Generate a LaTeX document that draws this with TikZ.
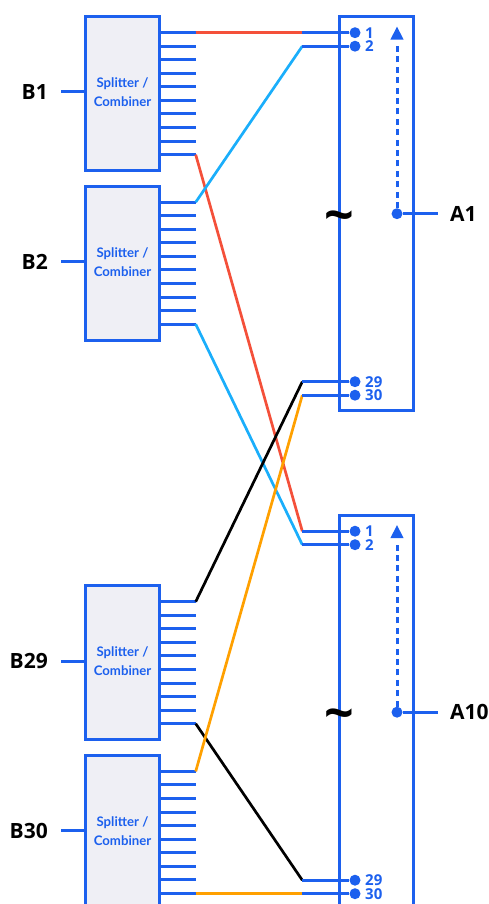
\documentclass[tikz,border=0pt]{standalone}
\usepackage{fontspec}
\setmainfont{Open Sans}
\newfontfamily\semi{Lato}
\definecolor{bl}{HTML}{1C60EE}
\definecolor{boxf}{HTML}{EFEFF5}
\definecolor{rd}{HTML}{F4503A}
\definecolor{sky}{HTML}{1AAEFB}
\definecolor{og}{HTML}{FFA000}
\tikzset{
 splitbox/.style={draw=bl,fill=boxf,line width=3pt,outer sep=0pt,minimum width=73.6pt,minimum height=153.7pt,inner sep=0pt},
 antbox/.style={draw=bl,fill=none,line width=3pt,outer sep=0pt,minimum width=74pt,minimum height=394pt,inner sep=0pt},
 stub/.style={draw=bl,line width=3pt},
 wire/.style={line width=2.7pt,line join=round},
 flatwire/.style={line width=3pt},
 dotn/.style={circle,fill=bl,minimum size=11pt,inner sep=0pt},
 port/.style={text=bl,font=\fontsize{15}{15}\selectfont\bfseries,anchor=west,inner sep=0pt},
 lab/.style={text=black,font=\fontsize{21}{21}\selectfont\bfseries,inner sep=0pt},
 tipn/.style={fill=bl},
}
\begin{document}
\begin{tikzpicture}[x=1pt,y=-1pt]
\useasboundingbox (0,-0.7) rectangle (489,903.3);
% splitter boxes
\foreach \n/\yc/\t in {b1/93/B1,b2/262.5/B2,b29/662/B29,b30/831.7/B30}{
  \node[splitbox] (\n) at (122.5,\yc) {};
  \node[text=bl,font=\fontsize{13.2}{19}\selectfont\semi\bfseries,align=center,inner sep=0pt] (\n t) at (122.5,\yc-1.5) {Splitter /\\Combiner};
  \coordinate (\n w) at (61,\yc-1.7);
  \node[lab,anchor=east] (\n l) at (48,\yc-1.7) {\t};
  \draw[stub] (\n w) -- (\n.west |- \n w);
  \foreach \i in {0,...,9}{
    \coordinate (\n s\i) at (195.7,\yc-61+13.55*\i);
    \draw[stub] (\n.east |- \n s\i) -- (\n s\i);
  }
}
% antenna boxes
\foreach \n/\yt/\t in {a1/16/A1,a10/514.5/A10}{
  \node[antbox,anchor=north] (\n) at (376,\yt) {};
  \coordinate (\n feed) at (397,\yt+197);
  \node[dotn] (\n d) at (\n feed) {};
  \coordinate (\n e) at (438,\yt+197);
  \node[lab,anchor=west] (\n l) at (450,\yt+197) {\t};
  \draw[stub] (\n d) -- (\n e);
  \coordinate (\n top) at (397,\yt+28);
  \draw[bl,line width=3pt,dash pattern=on 6pt off 4.4pt] (\n d) -- (\n top);
  \fill[tipn] (397,\yt+10) coordinate (\n a) -- (403.7,\yt+23) -- (390.3,\yt+23) -- cycle;
  \node[font=\fontsize{52}{52}\selectfont\bfseries,text=black,inner sep=0pt] (\n w) at (339.5,\yt+205) {\char"7E};
  \foreach \p/\dy/\s in {1/16/1,2/29.5/2,29/365/29,30/378.5/30}{
    \node[dotn] (\n p\p) at (355,\yt+\dy) {};
    \node[port] (\n n\p) at (365,\yt+\dy) {\s};
    \coordinate (\n j\p) at (302.3,\yt+\dy);
  }
}
% wires
\draw[flatwire,rd] (b1s0) -- ([xshift=5pt]a1j1 |- b1s0);
\draw[wire,rd] (b1s9) -- (a10j1);
\draw[wire,sky] (b2s0) -- (a1j2);
\draw[wire,sky] (b2s9) -- (a10j2);
\draw[wire,black] (b29s0) -- (a1j29);
\draw[wire,black] (b29s9) -- (a10j29);
\draw[wire,og] (b30s0) -- (a1j30);
\draw[flatwire,og] (b30s9) -- ([xshift=5pt]a10j30 |- b30s9);
% port stubs
\foreach \n in {a1,a10}\foreach \p in {1,2,29,30}{
  \draw[stub] (\n j\p) -- (\n p\p);
}
\end{tikzpicture}
\end{document}
